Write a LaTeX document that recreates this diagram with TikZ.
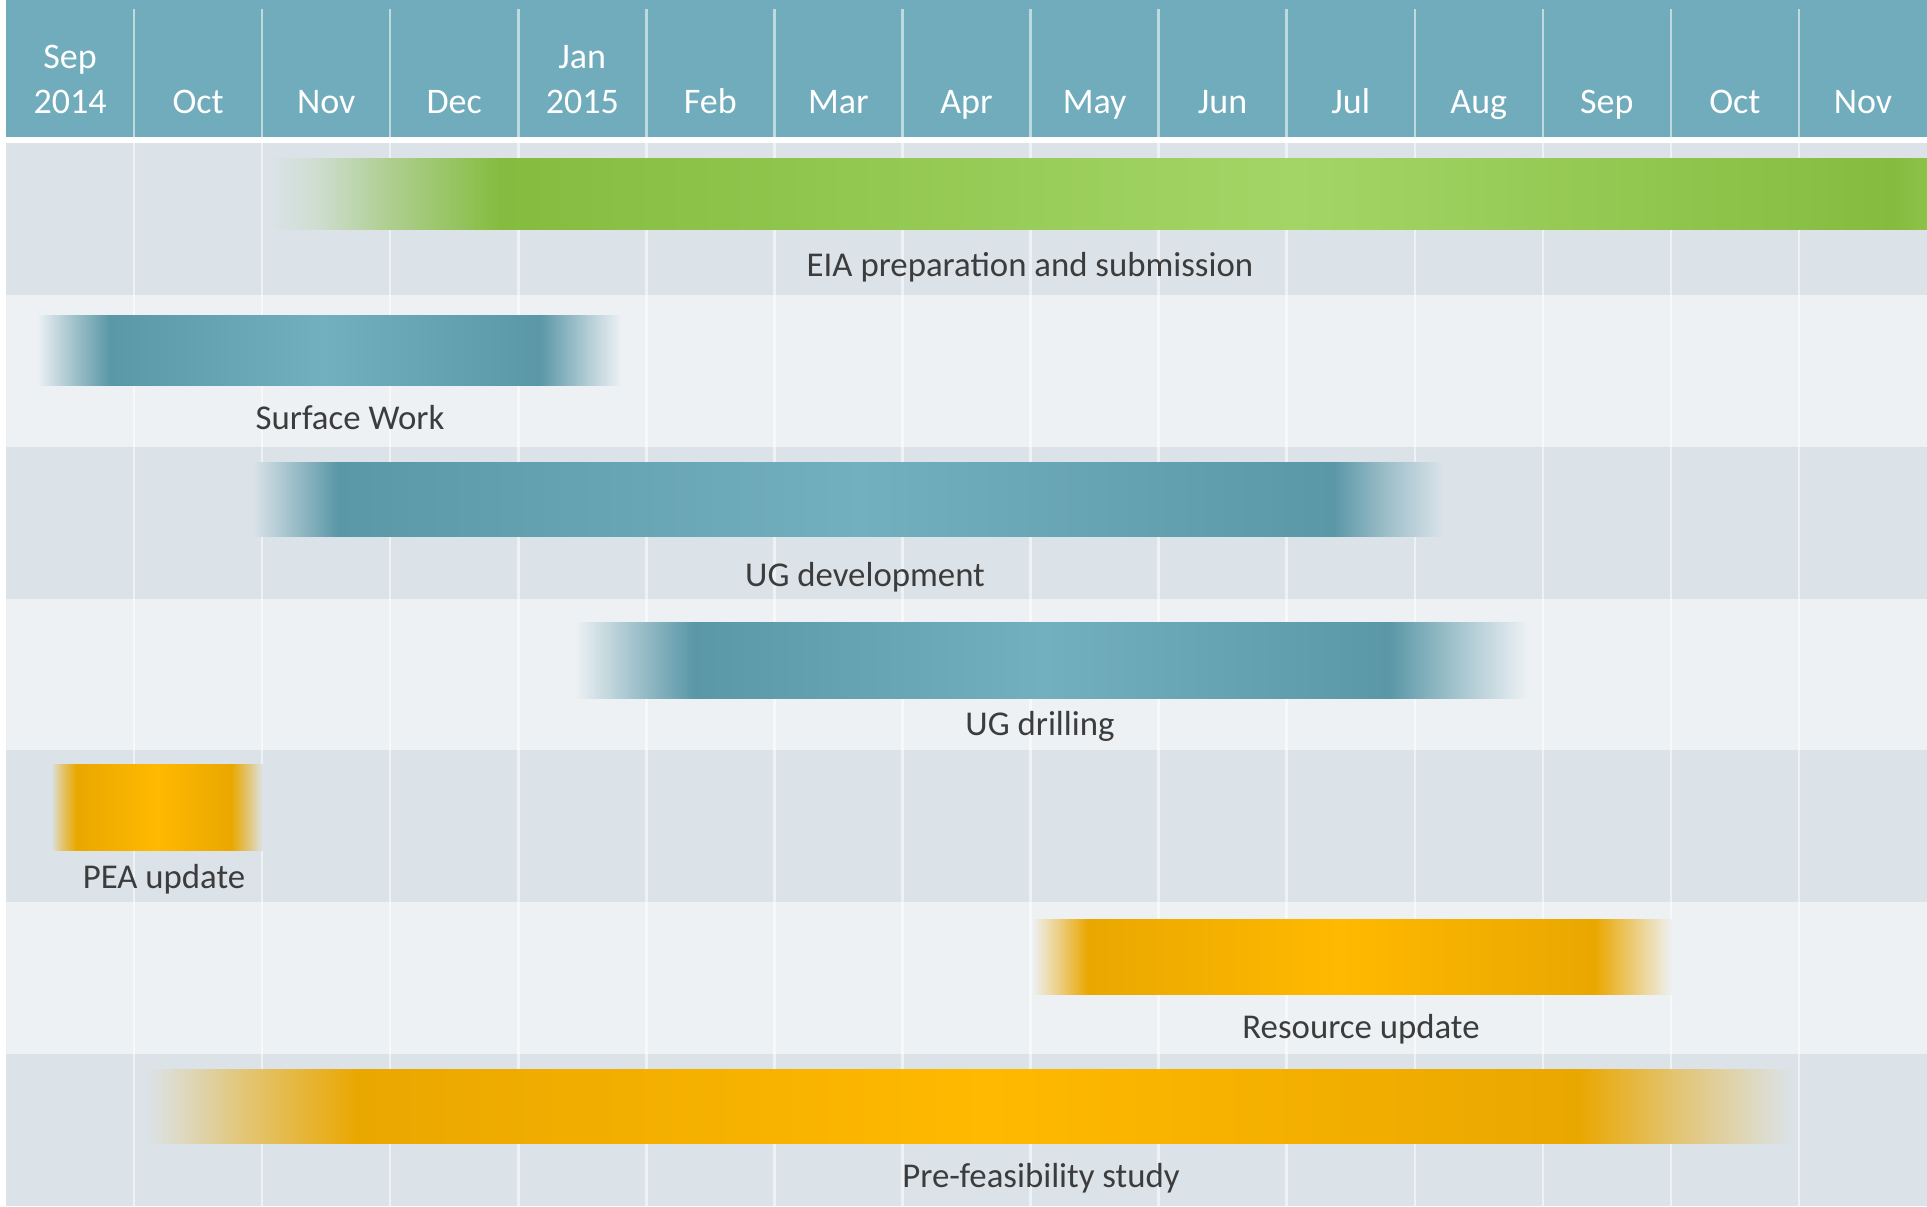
\documentclass[tikz,border=0pt]{standalone}
\usepackage{fontspec}
\setmainfont{Carlito}
\definecolor{rowdark}{HTML}{DBE3E9}
\definecolor{rowlight}{HTML}{EDF1F4}
\definecolor{headercol}{HTML}{70ACBC}
\definecolor{teald}{HTML}{5A97A7}
\definecolor{teall}{HTML}{72AFBF}
\definecolor{yeld}{HTML}{EAA700}
\definecolor{yell}{HTML}{FFB900}
\definecolor{grnd}{HTML}{85BC3F}
\definecolor{grnl}{HTML}{A3D566}
\definecolor{lbltext}{HTML}{3C3C3C}
% bars: bounding box maps onto 25bp..75bp
\pgfdeclarehorizontalshading{eiashade}{100bp}{color(0bp)=(rowdark); color(25bp)=(rowdark); color(26.5bp)=(grnd!15!rowdark); color(28.5bp)=(grnd!50!rowdark); color(32bp)=(grnd); color(56bp)=(grnl); color(74bp)=(grnd); color(75bp)=(grnd!75!grnl); color(100bp)=(grnd!75!grnl)}
\pgfdeclarehorizontalshading{surfshade}{100bp}{color(0bp)=(rowlight); color(25bp)=(rowlight); color(28bp)=(teald!50!rowlight); color(31.25bp)=(teald); color(49.5bp)=(teall); color(68bp)=(teald); color(71.5bp)=(teald!50!rowlight); color(75bp)=(rowlight); color(100bp)=(rowlight)}
\pgfdeclarehorizontalshading{ugdevshade}{100bp}{color(0bp)=(rowdark); color(25bp)=(rowdark); color(26.8bp)=(teald!50!rowdark); color(28.6bp)=(teald); color(50.5bp)=(teall); color(70.35bp)=(teald); color(72.5bp)=(teald!50!rowdark); color(75bp)=(rowdark); color(100bp)=(rowdark)}
\pgfdeclarehorizontalshading{ugdrillshade}{100bp}{color(0bp)=(rowlight); color(25bp)=(rowlight); color(28bp)=(teald!50!rowlight); color(31.25bp)=(teald); color(49.5bp)=(teall); color(67.7bp)=(teald); color(71.25bp)=(teald!50!rowlight); color(75bp)=(rowlight); color(100bp)=(rowlight)}
\pgfdeclarehorizontalshading{peashade}{100bp}{color(0bp)=(rowdark); color(25bp)=(rowdark); color(27.5bp)=(yeld!50!rowdark); color(31bp)=(yeld); color(50bp)=(yell); color(67.5bp)=(yeld); color(71.5bp)=(yeld!50!rowdark); color(75bp)=(rowdark); color(100bp)=(rowdark)}
\pgfdeclarehorizontalshading{resshade}{100bp}{color(0bp)=(rowlight); color(25bp)=(rowlight); color(27.25bp)=(yeld!50!rowlight); color(29.35bp)=(yeld); color(49bp)=(yell); color(69bp)=(yeld); color(72bp)=(yeld!50!rowlight); color(75bp)=(rowlight); color(100bp)=(rowlight)}
\pgfdeclarehorizontalshading{pfsshade}{100bp}{color(0bp)=(rowdark); color(25bp)=(rowdark); color(28bp)=(yeld!50!rowdark); color(31.4bp)=(yeld); color(50.5bp)=(yell); color(68.5bp)=(yeld); color(71.5bp)=(yeld!50!rowdark); color(75bp)=(rowdark); color(100bp)=(rowdark)}
\begin{document}
\begin{tikzpicture}[x=0.5pt,y=-0.5pt,
  gridline/.style={white,opacity=0.55,line width=1.25pt},
  monthlbl/.style={anchor=base,inner sep=0pt,text=white,font=\fontsize{18}{18}\selectfont},
  barlbl/.style={anchor=base,inner sep=0pt,text=lbltext,font=\fontsize{17.4}{17.4}\selectfont}]
\useasboundingbox (0,0) rectangle (1927,1206);
\fill[white] (0,0) rectangle (1927,1206);
\fill[headercol] (6,0) rectangle (1927,137);
\foreach \i in {0,...,6}{
  \ifodd\i \def\rc{rowlight}\else\def\rc{rowdark}\fi
  \fill[\rc] (6,{143+151.857*\i}) rectangle (1927,{143+151.857*(\i+1)});
}
\foreach \k in {1,...,14}{
  \draw[gridline] ({6+128.067*\k},9) -- ({6+128.067*\k},137);
  \draw[gridline] ({6+128.067*\k},143) -- ({6+128.067*\k},1206);
}
% header labels
\node[monthlbl] (m0) at ({6+128.067*0.5},68) {Sep};
\node[monthlbl] (y0) at ({6+128.067*0.5},113) {2014};
\node[monthlbl] (m4) at ({6+128.067*4.5},68) {Jan};
\node[monthlbl] (y4) at ({6+128.067*4.5},113) {2015};
\foreach \m/\i in {Oct/1,Nov/2,Dec/3,Feb/5,Mar/6,Apr/7,May/8,Jun/9,Jul/10,Aug/11,Sep/12,Oct/13,Nov/14}{
  \node[monthlbl] (m\i) at ({6+128.067*(\i+0.5)},113) {\m};
}
% bars
\shade[shading=eiashade] (268,158) rectangle (1927,229);
\shade[shading=surfshade] (37,315) rectangle (621,385);
\shade[shading=ugdevshade] (252,462) rectangle (1444,536);
\shade[shading=ugdrillshade] (575,622) rectangle (1528,698);
\shade[shading=peashade] (51,764) rectangle (263,850);
\shade[shading=resshade] (1032,919) rectangle (1672,994);
\shade[shading=pfsshade] (147,1069) rectangle (1793,1143);
% bar labels
\node[barlbl] (eia) at (1030,276) {EIA preparation and submission};
\node[barlbl] (surf) at (350,429) {Surface Work};
\node[barlbl] (ugdev) at (865,586) {UG development};
\node[barlbl] (ugdrill) at (1040,735) {UG drilling};
\node[barlbl] (pea) at (164,888) {PEA update};
\node[barlbl] (res) at (1361,1038) {Resource update};
\node[barlbl] (pfs) at (1041,1187) {Pre-feasibility study};
\end{tikzpicture}
\end{document}
